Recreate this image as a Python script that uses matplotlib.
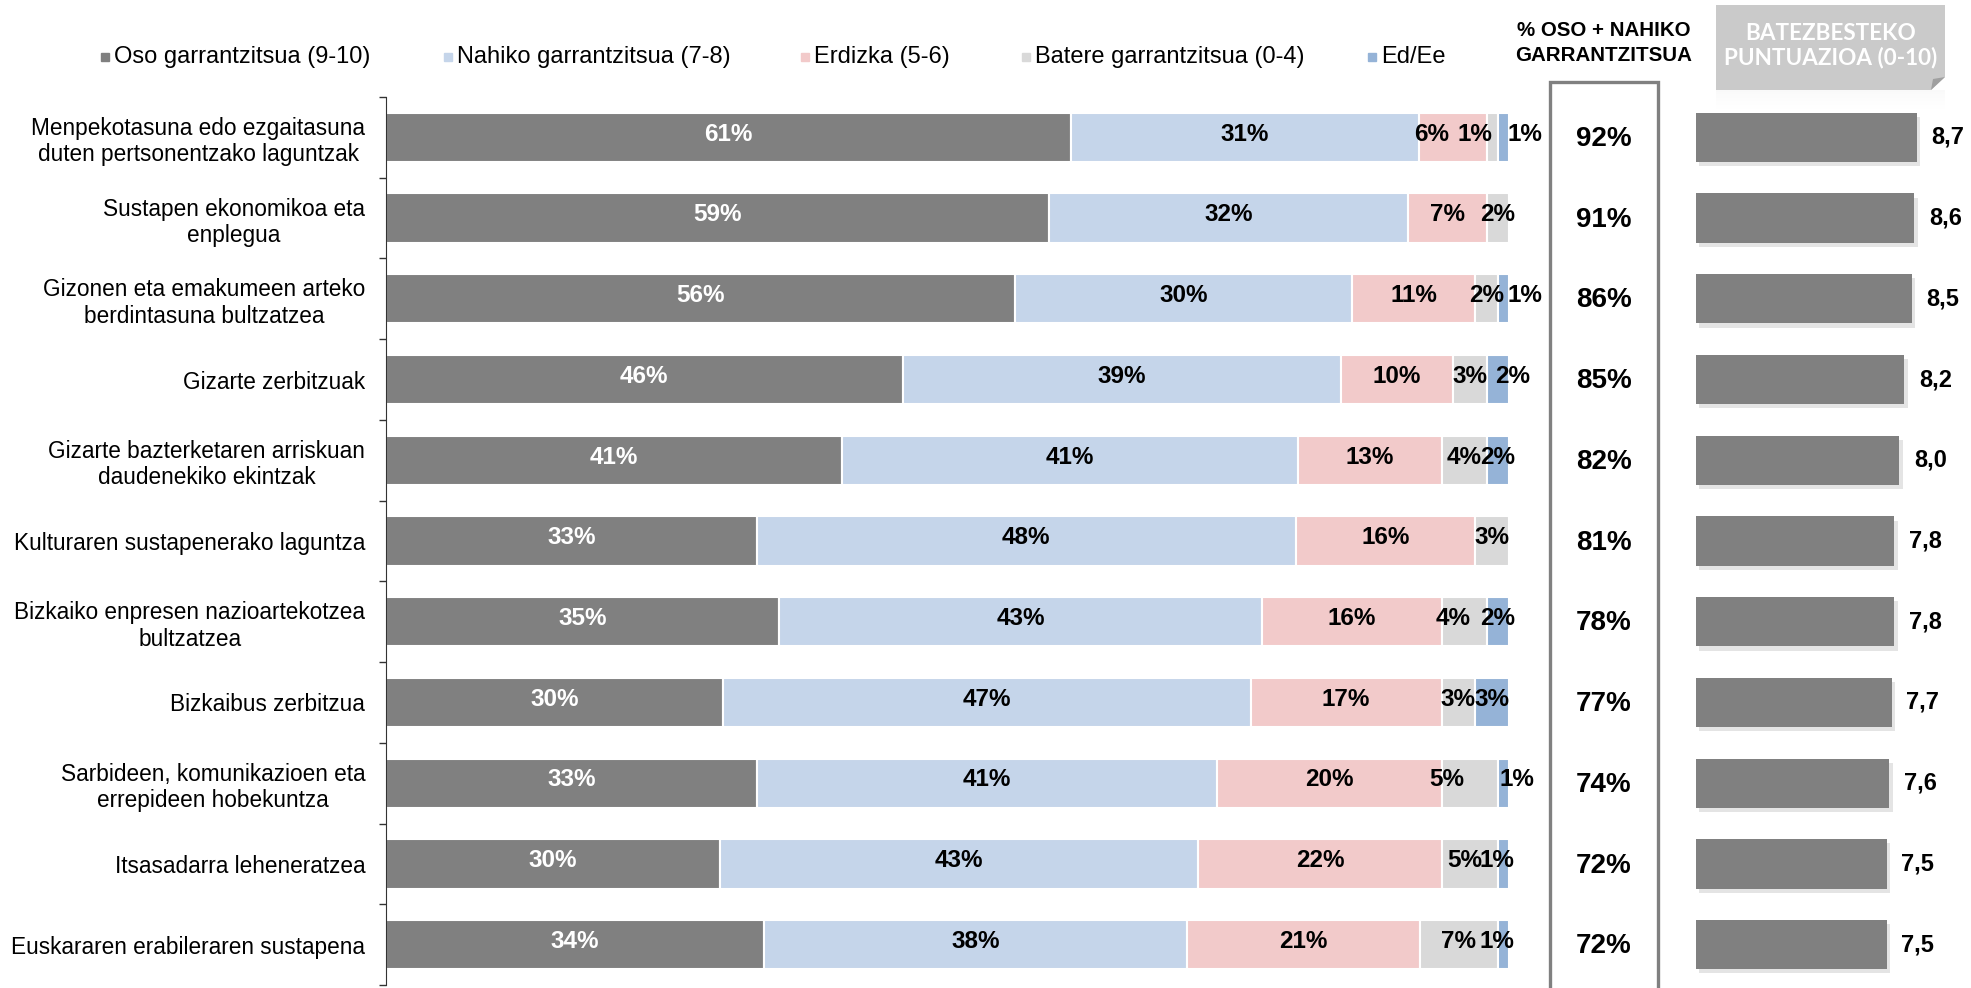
import numpy as np
import matplotlib.pyplot as plt
from matplotlib.patches import Rectangle, Polygon
import matplotlib.patheffects as pe
import matplotlib.transforms as mtransforms

plt.rcParams['font.family'] = ['Liberation Sans', 'DejaVu Sans']

# ---- data ----
categories = [
    'Menpekotasuna edo ezgaitasuna\nduten pertsonentzako laguntzak',
    'Sustapen ekonomikoa eta\nenplegua',
    'Gizonen eta emakumeen arteko\nberdintasuna bultzatzea',
    'Gizarte zerbitzuak',
    'Gizarte bazterketaren arriskuan\ndaudenekiko ekintzak',
    'Kulturaren sustapenerako laguntza',
    'Bizkaiko enpresen nazioartekotzea\nbultzatzea',
    'Bizkaibus zerbitzua',
    'Sarbideen, komunikazioen eta\nerrepideen hobekuntza',
    'Itsasadarra leheneratzea',
    'Euskararen erabileraren sustapena',
]
series_names = ['Oso garrantzitsua (9-10)', 'Nahiko garrantzitsua (7-8)',
                'Erdizka (5-6)', 'Batere garrantzitsua (0-4)', 'Ed/Ee']
oso = [61, 59, 56, 46, 41, 33, 35, 30, 33, 30, 34]
nahiko = [31, 32, 30, 39, 41, 48, 43, 47, 41, 43, 38]
erdizka = [6, 7, 11, 10, 13, 16, 16, 17, 20, 22, 21]
batere = [1, 2, 2, 3, 4, 3, 4, 3, 5, 5, 7]
ed_ee = [1, 0, 1, 2, 2, 0, 2, 3, 1, 1, 1]
oso_nahiko = [92, 91, 86, 85, 82, 81, 78, 77, 74, 72, 72]
puntuazioa = [8.7, 8.6, 8.5, 8.2, 8.0, 7.8, 7.8, 7.7, 7.6, 7.5, 7.5]

colors = ['#808080', '#C5D5EA', '#F2CACA', '#D9D9D9', '#95B3D7']
text_colors = ['white', 'black', 'black', 'black', 'black']

# label nudges (row, series) -> shift in % units, like the hand-moved Excel labels
nudges = {(0, 2): -1.9, (0, 3): -1.5, (0, 4): 1.9, (2, 4): 1.9, (3, 4): 1.3,
          (6, 3): -1.0, (8, 3): -2.0, (8, 4): 1.2, (9, 3): -0.5,
          (9, 4): -0.6, (10, 4): -0.6}

W, H = 1971, 988
def fx(x):
    return x / W
def fy(y):
    return 1 - y / H

fig = plt.figure(figsize=(W / 100, H / 100), dpi=100)

# ---- stacked 100% bars ----
ax = fig.add_axes([fx(386), fy(985), fx(1509) - fx(386), fy(97) - fy(985)])
data = np.array([oso, nahiko, erdizka, batere, ed_ee], dtype=float)
data = data / data.sum(axis=0) * 100
raw = np.array([oso, nahiko, erdizka, batere, ed_ee])
y = np.arange(len(categories))
left = np.zeros(len(categories))
for i, name in enumerate(series_names):
    ax.barh(y, data[i], left=left, height=0.61, color=colors[i],
            edgecolor='white', linewidth=1.5, label=name)
    for j in range(len(categories)):
        if raw[i, j] > 0:
            xc = left[j] + data[i, j] / 2 + nudges.get((j, i), 0)
            ax.text(xc, j - 0.04, f'{raw[i, j]}%', ha='center', va='center',
                    color=text_colors[i], fontsize=17.5, fontweight='bold',
                    clip_on=False)
    left += data[i]

ax.set_xlim(0, 100)
ax.set_ylim(len(categories) - 0.5, -0.5)
ax.set_yticks(y, categories)
ax.set_yticks(np.arange(-0.5, len(categories)), minor=True)
ax.tick_params(axis='y', which='major', length=0, pad=15, labelsize=16.3)
ax.tick_params(axis='y', which='minor', length=5, width=1, color='#333333')
for lbl in ax.get_yticklabels():
    lbl.set_multialignment('center')
ax.set_xticks([])
for s in ['top', 'right', 'bottom']:
    ax.spines[s].set_visible(False)
ax.spines['left'].set_color('#333333')

# ---- legend (manual, Excel style) ----
legend_x = [101, 444, 801, 1022, 1368]
for xl, name, c in zip(legend_x, series_names, colors):
    fig.add_artist(Rectangle((fx(xl), fy(61)), 8 / W, 8 / H, color=c,
                             transform=fig.transFigure))
    fig.text(fx(xl + 13), fy(57), name, ha='left', va='center', fontsize=17)

# ---- % oso + nahiko column ----
fig.text(fx(1604), fy(43), '% OSO + NAHIKO\nGARRANTZITSUA', ha='center',
         va='center', fontsize=14.8, fontweight='bold', linespacing=1.4)
fig.add_artist(Rectangle((fx(1550), fy(1000)), (1658 - 1550) / W,
                         (1000 - 82) / H, fill=False, edgecolor='#808080',
                         linewidth=2.4, transform=fig.transFigure))
blend = mtransforms.blended_transform_factory(fig.transFigure, ax.transData)
for j, v in enumerate(oso_nahiko):
    ax.text(fx(1604), j + 0.02, f'{v}%', transform=blend, ha='center', va='center',
            fontsize=20, fontweight='bold', clip_on=False)

# ---- average score bars ----
ax2 = fig.add_axes([fx(1696), fy(985), 254 / W, fy(97) - fy(985)])
ax2.barh(y, puntuazioa, height=0.61, color='#808080',
         path_effects=[pe.SimplePatchShadow(offset=(2.5, -3), shadow_rgbFace='#a8a8a8', alpha=0.3),
                       pe.Normal()])
for j, v in enumerate(puntuazioa):
    ax2.annotate(f'{v:.1f}'.replace('.', ','), (v, j), xytext=(10.5, 0),
                 textcoords='offset points', ha='left', va='center',
                 fontsize=17, fontweight='bold')
ax2.set_xlim(0, 10)
ax2.set_ylim(len(categories) - 0.5, -0.5)
ax2.axis('off')

# header tab with folded corner
tab = [(1716, 5), (1945, 5), (1945, 77), (1931, 90), (1716, 90)]
fig.add_artist(Polygon([(fx(a), fy(b)) for a, b in tab], closed=True,
                       facecolor='#CACACA', edgecolor='none',
                       transform=fig.transFigure))
fold = [(1945, 77), (1931, 90), (1933, 79)]
fig.add_artist(Polygon([(fx(a), fy(b)) for a, b in fold], closed=True,
                       facecolor='#A0A0A0', edgecolor='none',
                       transform=fig.transFigure))
fig.text(fx(1831), fy(46), 'BATEZBESTEKO\nPUNTUAZIOA (0-10)', ha='center',
         va='center', color='white', fontsize=16.2, fontweight='bold',
         family=['Lato', 'DejaVu Sans'], linespacing=1.15)
# faint reflection under the tab
grad = fig.add_axes([fx(1716), fy(110), 229 / W, 20 / H])
grad.imshow(np.linspace(0, 1, 20).reshape(-1, 1), cmap='Greys_r', vmin=-5,
            vmax=1, aspect='auto', alpha=0.25)
grad.axis('off')
grad.set_zorder(-1)

fig.savefig('out.png', dpi=100)
